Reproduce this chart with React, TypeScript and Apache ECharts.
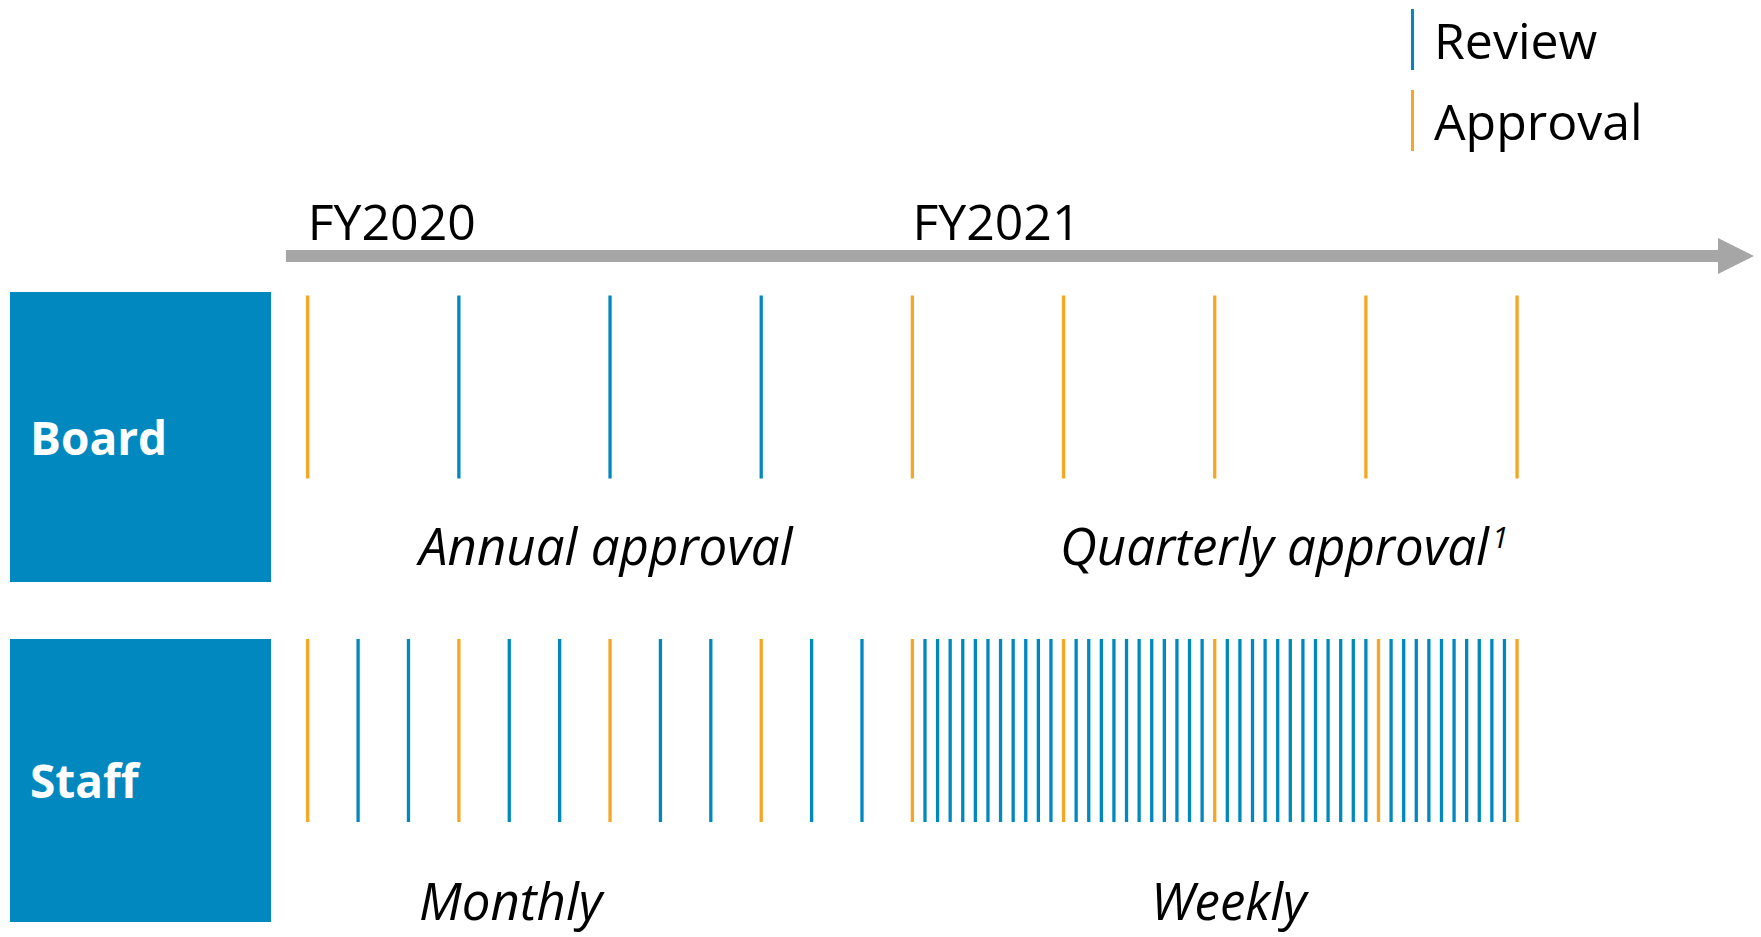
import React, { useEffect, useRef } from "react";
import * as echarts from "echarts";

// Rows of the timeline (top to bottom)
const rows = ["Board", "Staff"];
// Positions in weeks from start of FY2020 (1 month = 4 weeks, 1 quarter = 12 weeks)
const boardReviewWeeks = [12, 24, 36];
const boardApprovalWeeks = [0, 48, 60, 72, 84, 96];
const staffReviewWeeks = [
  4, 8, 16, 20, 28, 32, 40, 44,
  49, 50, 51, 52, 53, 54, 55, 56, 57, 58, 59,
  61, 62, 63, 64, 65, 66, 67, 68, 69, 70, 71,
  73, 74, 75, 76, 77, 78, 79, 80, 81, 82, 83, 84,
  86, 87, 88, 89, 90, 91, 92, 93, 94, 95,
];
const staffApprovalWeeks = [0, 12, 24, 36, 48, 60, 72, 85, 96];
// Fiscal year labels on the time arrow
const fyTicks = [0, 48];
const fyLabels = ["FY2020", "FY2021"];

const BLUE = "#0189BF";
const ORANGE = "#F5A623";
const FONT = "'Open Sans', 'Noto Sans', sans-serif";

function toData(weeks: number[], rowName: string) {
  const r = rows.indexOf(rowName);
  return weeks.map((w) => [w, r]);
}

const renderTick = (params: any, api: any) => {
  const c = api.coord([api.value(0), api.value(1)]);
  const band = api.size([0, 1])[1];
  const h = band * 0.2664;
  return {
    type: "line",
    shape: { x1: c[0], y1: c[1] - h, x2: c[0], y2: c[1] + h },
    style: { stroke: api.visual("color"), lineWidth: 3.3 },
  };
};

export default function App() {
  const ref = useRef<HTMLDivElement>(null);
  useEffect(() => {
    document.body.style.margin = "0";
    const chart = echarts.init(ref.current!, undefined, { renderer: "svg" });
    const italic = { fill: "#000", fontSize: 51, fontStyle: "italic", fontFamily: FONT, verticalAlign: "middle" };
    chart.setOption({
      animation: false,
      backgroundColor: "#ffffff",
      grid: { left: 286, right: 25, top: 215.25, bottom: 34.75 },
      xAxis: {
        type: "value",
        position: "top",
        offset: -40.75,
        min: -1.7226,
        max: 113.38,
        axisLine: {
          show: true,
          symbol: ["none", "triangle"],
          symbolSize: [36, 36],
          lineStyle: { color: "#A6A6A6", width: 12, cap: "butt" },
        },
        axisTick: { show: false },
        splitLine: { show: false },
        axisLabel: {
          customValues: fyTicks,
          formatter: (v: number) => fyLabels[fyTicks.indexOf(v)] ?? "",
          align: "left",
          verticalAlign: "middle",
          margin: 35,
          fontSize: 50,
          fontFamily: FONT,
          color: "#000",
        },
      },
      yAxis: {
        type: "category",
        data: rows,
        inverse: true,
        show: false,
      },
      legend: {
        data: ["Review", "Approval"],
        orient: "vertical",
        left: 1411,
        top: 9,
        icon: "rect",
        itemWidth: 3,
        itemHeight: 61,
        itemGap: 20,
        padding: 0,
        selectedMode: false,
        textStyle: { fontSize: 50, fontFamily: FONT, color: "#000", padding: [0, 0, 0, 15] },
      },
      series: [
        {
          name: "Review",
          type: "custom",
          renderItem: renderTick,
          itemStyle: { color: BLUE },
          data: [...toData(boardReviewWeeks, "Board"), ...toData(staffReviewWeeks, "Staff")],
        },
        {
          name: "Approval",
          type: "custom",
          renderItem: renderTick,
          itemStyle: { color: ORANGE },
          data: [...toData(boardApprovalWeeks, "Board"), ...toData(staffApprovalWeeks, "Staff")],
        },
      ],
      graphic: [
        { type: "rect", shape: { x: 10, y: 292, width: 261, height: 290 }, style: { fill: BLUE } },
        { type: "rect", shape: { x: 10, y: 639, width: 261, height: 283 }, style: { fill: BLUE } },
        {
          type: "text", x: 30, y: 437,
          style: { text: "Board", fill: "#fff", fontSize: 46, fontWeight: "bold", fontFamily: FONT, verticalAlign: "middle" },
        },
        {
          type: "text", x: 30, y: 780,
          style: { text: "Staff", fill: "#fff", fontSize: 46, fontWeight: "bold", fontFamily: FONT, verticalAlign: "middle" },
        },
        { type: "text", x: 419, y: 545, style: { text: "Annual approval", ...italic } },
        {
          type: "text", x: 1060, y: 545,
          style: {
            text: "{m|Quarterly approval}{s|1}",
            verticalAlign: "middle",
            rich: {
              m: { ...italic },
              s: { fontSize: 30, fontStyle: "italic", fontFamily: FONT, fill: "#000", verticalAlign: "top", padding: [2, 0, 0, 3] },
            },
          },
        },
        { type: "text", x: 419, y: 900, style: { text: "Monthly", ...italic } },
        { type: "text", x: 1151, y: 900, style: { text: "Weekly", ...italic } },
      ],
    });
    return () => chart.dispose();
  }, []);
  return <div ref={ref} style={{ width: 1761, height: 937 }} />;
}
